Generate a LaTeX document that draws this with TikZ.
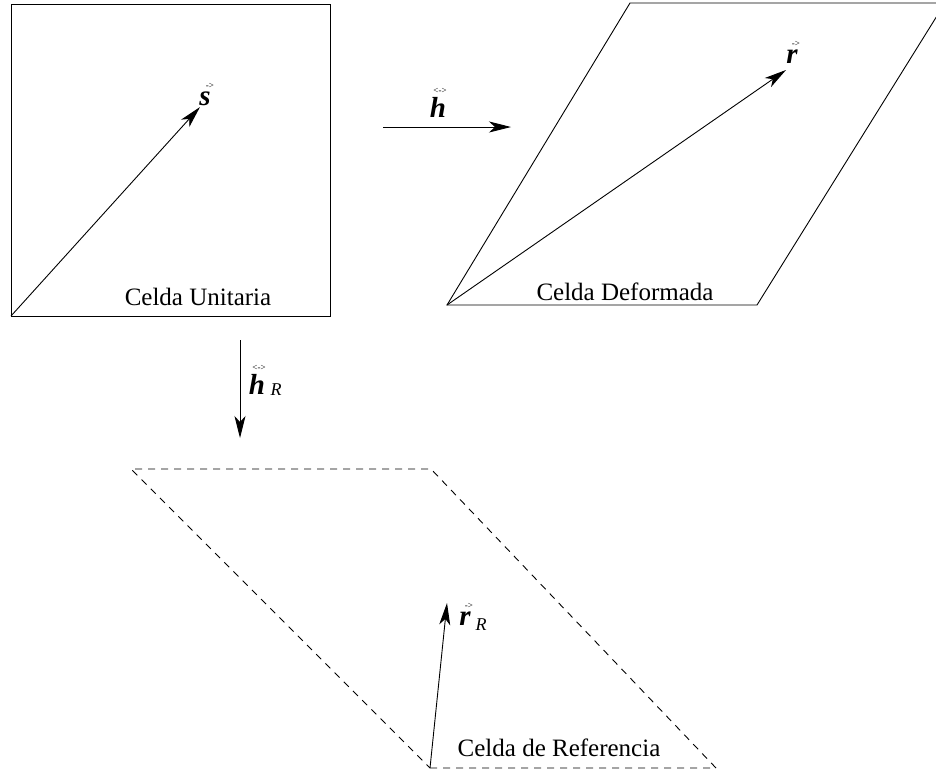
\documentclass[tikz,border=0pt]{standalone}
\usepackage{fontspec}
\setmainfont{Liberation Serif}
\usetikzlibrary{arrows.meta}
\begin{document}
\begin{tikzpicture}[x=1pt,y=-1pt,
  edge/.style={line width=0.9pt},
  dashedge/.style={line width=0.9pt, dash pattern=on 7pt off 6pt},
  vec/.style={line width=0.9pt, -{Stealth[length=22pt,width=11pt,inset=6pt]}},
  caption/.style={font=\fontsize{25}{28}\selectfont, inner sep=0pt},
  sym/.style={font=\fontsize{29}{32}\selectfont\bfseries\itshape, inner sep=0pt},
  sub/.style={font=\fontsize{18}{20}\selectfont\itshape, inner sep=0pt},
  acc/.style={font=\fontsize{9}{9}\selectfont, inner sep=0pt, anchor=south}]
\useasboundingbox (0,0) rectangle (936,772);
\clip (0,0) rectangle (936,772);
% Unit cell
\coordinate (u1) at (11,316);
\coordinate (u2) at (330,316);
\coordinate (u3) at (330,4);
\coordinate (u4) at (11,4);
\draw[edge] (u1) -- (u2) -- (u3) -- (u4) -- cycle;
\coordinate (stip) at (200,107);
\draw[vec] (u1) -- (stip);
\node[sym] (sl) at (205,99) {s};
\node[acc] (sa) at ([xshift=5pt,yshift=3pt]sl.north) {->};
\node[caption] (cu) at (198,297) {Celda Unitaria};
% Deformed cell
\coordinate (d1) at (447,305);
\coordinate (d2) at (757,305);
\coordinate (d3) at (945,3);
\coordinate (d4) at (630,3);
\draw[edge] (d1) -- (d2) -- (d3) -- (d4) -- cycle;
\coordinate (rtip) at (786,70);
\draw[vec] (d1) -- (rtip);
\node[sym] (rl) at (792,57) {r};
\node[acc] (ra) at ([xshift=4pt,yshift=3pt]rl.north) {->};
\node[caption] (cd) at (625,292) {Celda Deformada};
% h arrow
\coordinate (h1) at (383,127);
\coordinate (h2) at (511,127);
\draw[vec] (h1) -- (h2);
\node[sym] (hl) at (438,107) {h};
\node[acc] (ha) at ([xshift=2pt,yshift=3pt]hl.north) {<->};
% hR arrow
\coordinate (v1) at (240,340);
\coordinate (v2) at (240,438);
\draw[vec] (v1) -- (v2);
\node[sym] (hrl) at (257,384) {h};
\node[acc] (hra) at ([xshift=2pt,yshift=3pt]hrl.north) {<->};
\node[sub] (hrs) at (276,390) {R};
% Reference cell
\coordinate (f1) at (430,768);
\coordinate (f2) at (716,768);
\coordinate (f3) at (431,469);
\coordinate (f4) at (131,469);
\draw[dashedge] (f1) -- (f2) -- (f3) -- (f4) -- cycle;
\coordinate (rrtip) at (447,603);
\draw[vec] (f1) -- (rrtip);
\node[sym] (rrl) at (465,619) {r};
\node[acc] (rra) at ([xshift=4pt,yshift=3pt]rrl.north) {->};
\node[sub] (rrs) at (481,625) {R};
\node[caption] (cr) at (559,748) {Celda de Referencia};
\end{tikzpicture}
\end{document}
